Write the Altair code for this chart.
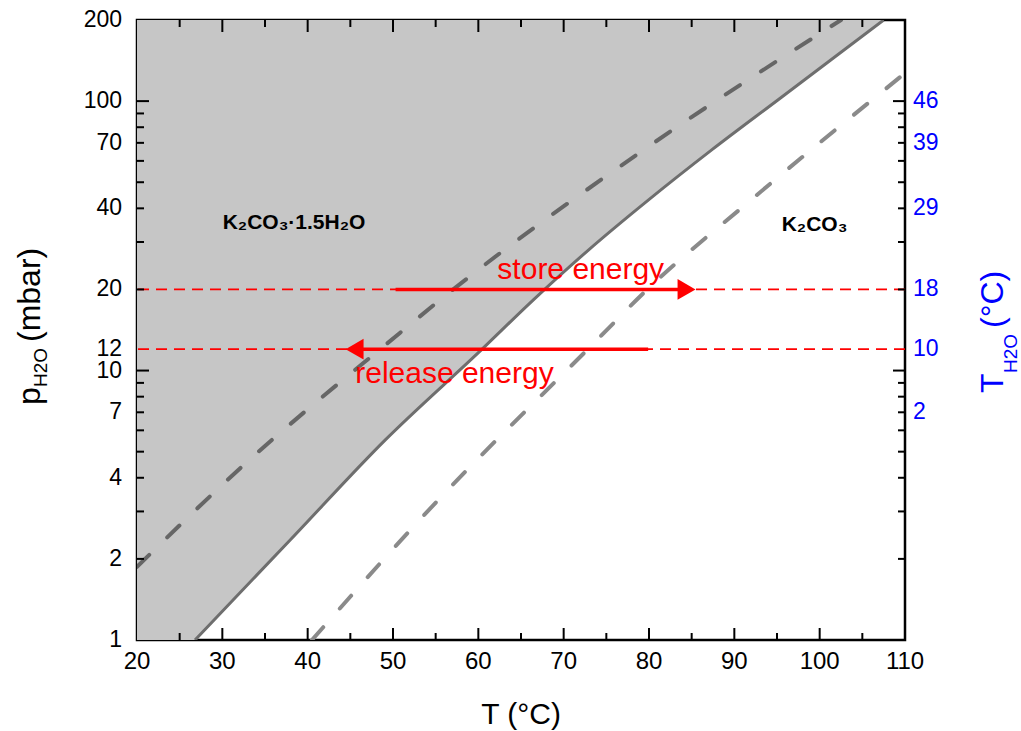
import altair as alt
import pandas as pd

# ---------------- data ----------------
equil_T = [26.8, 37.95, 49.1, 60.35, 66.45, 72.9, 79.95, 87.35, 95.1, 107.5]
equil_p = [1.0, 2.35, 5.53, 11.93, 18.3, 28.0, 43.0, 65.9, 101.0, 200.0]

hyd_T = [20.0, 35.0, 40.9, 48.5, 56.7, 78.7, 102.5]
hyd_p = [1.87, 5.25, 7.59, 12.0, 19.6, 63.7, 200.0]

dehyd_T = [40.5, 55.3, 73.1, 79.8, 91.7, 110.0]
dehyd_p = [1.0, 3.31, 12.24, 20.0, 42.3, 127.0]

level_p = [20, 12]

store_T = [50.3, 84.4]
store_p = 20
release_T = [79.9, 45.5]
release_p = 12

x_label_vals = [20, 30, 40, 50, 60, 70, 80, 90, 100, 110]
x_major_ticks = [30, 40, 50, 60, 70, 80, 90, 100]
x_minor_ticks = [25, 35, 45, 55, 65, 75, 85, 95, 105]

y_label_vals = [1, 2, 4, 7, 10, 12, 20, 40, 70, 100, 200]
y_major_ticks = [10, 100]
y_minor_ticks = [2, 3, 4, 5, 6, 7, 8, 9, 20, 30, 40, 50, 60, 70, 80, 90]

right_label_p = [100, 70, 40, 20, 12, 7]
right_label_text = ["46", "39", "29", "18", "10", "2"]

# ---------------- layout ----------------
W, H = 768, 620
FONT = "Liberation Sans"
xs = alt.Scale(domain=[20, 110], nice=False, zero=False)
ys = alt.Scale(type="log", domain=[1, 200], nice=False)


def X(f):
    return alt.X(f, type="quantitative", scale=xs, axis=None)


def Y(f):
    return alt.Y(f, type="quantitative", scale=ys, axis=None)


equil = pd.DataFrame({"T": equil_T, "p": equil_p})
hyd = pd.DataFrame({"T": hyd_T, "p": hyd_p})
dehyd = pd.DataFrame({"T": dehyd_T, "p": dehyd_p})

fill = alt.Chart(equil).mark_area(
    orient="horizontal", color="#c6c6c6", interpolate="monotone", clip=True
).encode(y=Y("p"), x=X("T"), x2=alt.datum(20))

line_eq = alt.Chart(equil).mark_line(
    color="#6e6e6e", strokeWidth=3, interpolate="monotone", clip=True
).encode(x=X("T"), y=Y("p"))

line_hyd = alt.Chart(hyd).mark_line(
    color="#666666", strokeWidth=4, strokeDash=[17, 25], strokeCap="round",
    interpolate="monotone", clip=True
).encode(x=X("T"), y=Y("p"))

line_dehyd = alt.Chart(dehyd).mark_line(
    color="#8a8a8a", strokeWidth=4, strokeDash=[17, 25], strokeCap="round",
    interpolate="monotone", clip=True
).encode(x=X("T"), y=Y("p"))

levels = alt.Chart(pd.DataFrame({"p": level_p})).mark_rule(
    color="#ff0000", strokeWidth=1.8, strokeDash=[11, 7]
).encode(y=Y("p"))

store_df = pd.DataFrame({"T": [store_T[0]], "T2": [store_T[1]], "p": [store_p]})
release_df = pd.DataFrame({"T": [release_T[0]], "T2": [release_T[1]], "p": [release_p]})

store_line = alt.Chart(store_df).mark_rule(color="#ff0000", strokeWidth=3.5).encode(
    x=X("T"), x2="T2:Q", y=Y("p"))
release_line = alt.Chart(release_df).mark_rule(color="#ff0000", strokeWidth=3.5).encode(
    x=X("T"), x2="T2:Q", y=Y("p"))

store_head = alt.Chart(pd.DataFrame({"T": [store_T[1]], "p": [store_p]})).mark_point(
    shape="triangle-right", filled=True, color="#ff0000", size=430, opacity=1
).encode(x=X("T"), y=Y("p"))
release_head = alt.Chart(pd.DataFrame({"T": [release_T[1]], "p": [release_p]})).mark_point(
    shape="triangle-left", filled=True, color="#ff0000", size=430, opacity=1
).encode(x=X("T"), y=Y("p"))

store_text = alt.Chart(pd.DataFrame({"T": [72.0], "p": [23.6], "t": ["store energy"]})).mark_text(
    color="#ff0000", font=FONT, fontSize=30, baseline="middle", align="center"
).encode(x=X("T"), y=Y("p"), text="t:N")
release_text = alt.Chart(pd.DataFrame({"T": [57.2], "p": [9.7], "t": ["release energy"]})).mark_text(
    color="#ff0000", font=FONT, fontSize=30, baseline="middle", align="center"
).encode(x=X("T"), y=Y("p"), text="t:N")

phase_df = pd.DataFrame({
    "T": [38.4, 99.4],
    "p": [35.3, 34.7],
    "t": ["K\u2082CO\u2083\u00b71.5H\u2082O", "K\u2082CO\u2083"],
})
phase_text = alt.Chart(phase_df).mark_text(
    color="black", font=FONT, fontSize=21, fontWeight="bold", baseline="middle", align="center"
).encode(x=X("T"), y=Y("p"), text="t:N")

# ---------------- ticks (inward, all four sides) ----------------
TICK_MAJ, TICK_MIN = 12, 7
tick_layers = []
for vals, ln in [(x_major_ticks, TICK_MAJ), (x_minor_ticks, TICK_MIN)]:
    d = pd.DataFrame({"T": vals})
    tick_layers.append(alt.Chart(d).mark_rule(color="black", strokeWidth=2).encode(
        x=X("T"), y=alt.value(H), y2=alt.value(H - ln)))
    tick_layers.append(alt.Chart(d).mark_rule(color="black", strokeWidth=2).encode(
        x=X("T"), y=alt.value(0), y2=alt.value(ln)))
for vals, ln in [(y_major_ticks, TICK_MAJ), (y_minor_ticks, TICK_MIN)]:
    d = pd.DataFrame({"p": vals})
    tick_layers.append(alt.Chart(d).mark_rule(color="black", strokeWidth=2).encode(
        y=Y("p"), x=alt.value(0), x2=alt.value(ln)))
    tick_layers.append(alt.Chart(d).mark_rule(color="black", strokeWidth=2).encode(
        y=Y("p"), x=alt.value(W), x2=alt.value(W - ln)))

# ---------------- tick labels ----------------
x_labels = alt.Chart(pd.DataFrame({"T": x_label_vals, "t": [str(v) for v in x_label_vals]})).mark_text(
    font=FONT, fontSize=24, baseline="top", align="center", color="black"
).encode(x=X("T"), y=alt.value(H + 10), text="t:N")

y_labels = alt.Chart(pd.DataFrame({"p": y_label_vals, "t": [str(v) for v in y_label_vals]})).mark_text(
    font=FONT, fontSize=23, baseline="middle", align="right", color="black"
).encode(y=Y("p"), x=alt.value(-15), text="t:N")

r_labels = alt.Chart(pd.DataFrame({"p": right_label_p, "t": right_label_text})).mark_text(
    font=FONT, fontSize=23, baseline="middle", align="left", color="#0000ff"
).encode(y=Y("p"), x=alt.value(W + 8), text="t:N")

# ---------------- axis titles ----------------
one = alt.Data(values=[{}])


def txt(s, x, y, size, color="black", angle=0, align="left", baseline="alphabetic"):
    return alt.Chart(one).mark_text(
        text=s, font=FONT, fontSize=size, color=color, angle=angle,
        align=align, baseline=baseline
    ).encode(x=alt.value(x), y=alt.value(y))


titles = [
    txt("T (°C)", 384, 695, 30, align="center", baseline="middle"),
    txt("p", -97, 385, 32, angle=270),
    txt("H2O", -90, 367, 19, angle=270),
    txt("(mbar)", -97, 322, 32, angle=270),
    txt("T", 866, 373, 32, color="#0000ff", angle=270),
    txt("H2O", 880, 353, 19, color="#0000ff", angle=270),
    txt("(°C)", 866, 308, 32, color="#0000ff", angle=270),
]

chart = alt.layer(
    fill, levels, line_hyd, line_dehyd, line_eq,
    store_line, release_line, store_head, release_head,
    store_text, release_text, phase_text,
    *tick_layers, x_labels, y_labels, r_labels, *titles
).properties(
    width=W, height=H,
    autosize=alt.AutoSizeParams(type="none"),
    padding={"left": 137, "top": 20, "right": 116, "bottom": 91},
).configure_view(stroke="black", strokeWidth=2.5)

chart.save("out.html", embed_options={"renderer": "svg", "actions": False})
